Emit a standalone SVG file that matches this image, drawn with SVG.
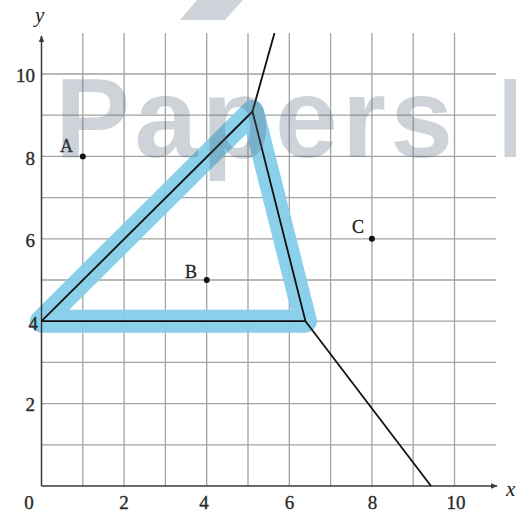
<svg xmlns="http://www.w3.org/2000/svg" width="516" height="513" viewBox="0 0 516 513">
<style>
.grid{stroke:#a3a3a3;stroke-width:1.3;fill:none}
.axis{stroke:#3a3a3a;stroke-width:1.5;fill:none}
.ln{stroke:#111;stroke-width:1.8;fill:none;stroke-linejoin:round}
.hl{stroke:#84cdea;stroke-width:23;fill:none;stroke-linejoin:round;opacity:0.95}
.num{font-family:"Liberation Serif",serif;font-size:19px;fill:#2a2a2a;stroke:#2a2a2a;stroke-width:0.35}
.lbl{font-family:"Liberation Serif",serif;font-size:18px;fill:#222;stroke:#222;stroke-width:0.3}
.var{font-family:"Liberation Serif",serif;font-size:21px;font-style:italic;fill:#222}
.wm{font-family:"Liberation Sans",sans-serif;font-weight:bold;font-size:113px;fill:#50647a;opacity:0.28}
</style>
<defs>
<marker id="ah" viewBox="0 0 10 10" refX="9" refY="5" markerWidth="7" markerHeight="7" markerUnits="userSpaceOnUse" orient="auto"><path d="M0,1 L10,5 L0,9 Z" fill="#3a3a3a"/></marker>
</defs>
<rect width="516" height="513" fill="#fff"/>
<g id="grid">
<path class="grid" d="M82.8,33V486M124.1,33V486M165.4,33V486M206.7,33V486M248,33V486M289.3,33V486M330.6,33V486M371.9,33V486M413.2,33V486M454.5,33V486"/>
<path class="grid" d="M41.5,444.8H496M41.5,403.6H496M41.5,362.4H496M41.5,321.2H496M41.5,280H496M41.5,238.8H496M41.5,197.6H496M41.5,156.4H496M41.5,115.2H496M41.5,74H496"/>
</g>
<g id="highlight">
<polygon class="hl" points="41.5,321.2 252.5,111.5 305.5,321.2"/>
</g>
<g id="axes">
<line class="axis" x1="41.5" y1="486" x2="41.5" y2="36" marker-end="url(#ah)"/>
<line class="axis" x1="41.5" y1="486" x2="497" y2="486" marker-end="url(#ah)"/>
<text class="var" x="35" y="22">y</text>
<text class="var" x="506" y="496">x</text>
</g>
<g id="ticks">
<text class="num" x="35" y="82" text-anchor="end">10</text>
<text class="num" x="35" y="165" text-anchor="end">8</text>
<text class="num" x="35" y="247" text-anchor="end">6</text>
<text class="num" x="38" y="330" text-anchor="end">4</text>
<text class="num" x="35" y="411" text-anchor="end">2</text>
<text class="num" x="29" y="509" text-anchor="middle">0</text>
<text class="num" x="124" y="509" text-anchor="middle">2</text>
<text class="num" x="204" y="509" text-anchor="middle">4</text>
<text class="num" x="289.5" y="509" text-anchor="middle">6</text>
<text class="num" x="372.5" y="509" text-anchor="middle">8</text>
<text class="num" x="456" y="509" text-anchor="middle">10</text>
</g>
<g id="connectors">
<polyline class="ln" points="274.5,33 252.5,111.5 305.5,321.2 431,486"/>
<line class="ln" x1="41.5" y1="321.2" x2="252.5" y2="111.5"/>
<line class="ln" x1="41.5" y1="321.2" x2="305.5" y2="321.2"/>
</g>
<g id="pointA">
<circle cx="82.8" cy="156.4" r="3" fill="#111"/>
<text class="lbl" x="60" y="152">A</text>
</g>
<g id="pointB">
<circle cx="206.7" cy="280" r="3" fill="#111"/>
<text class="lbl" x="185" y="278">B</text>
</g>
<g id="pointC">
<circle cx="371.9" cy="238.8" r="3" fill="#111"/>
<text class="lbl" x="352" y="233">C</text>
</g>
<g id="watermark">
<polygon points="197,0 243,0 225,20 180,20" fill="#50647a" opacity="0.28"/>
<text class="wm" x="55" y="157" textLength="398" lengthAdjust="spacing">Papers</text>
<text class="wm" x="497" y="157">I</text>
</g>
</svg>
